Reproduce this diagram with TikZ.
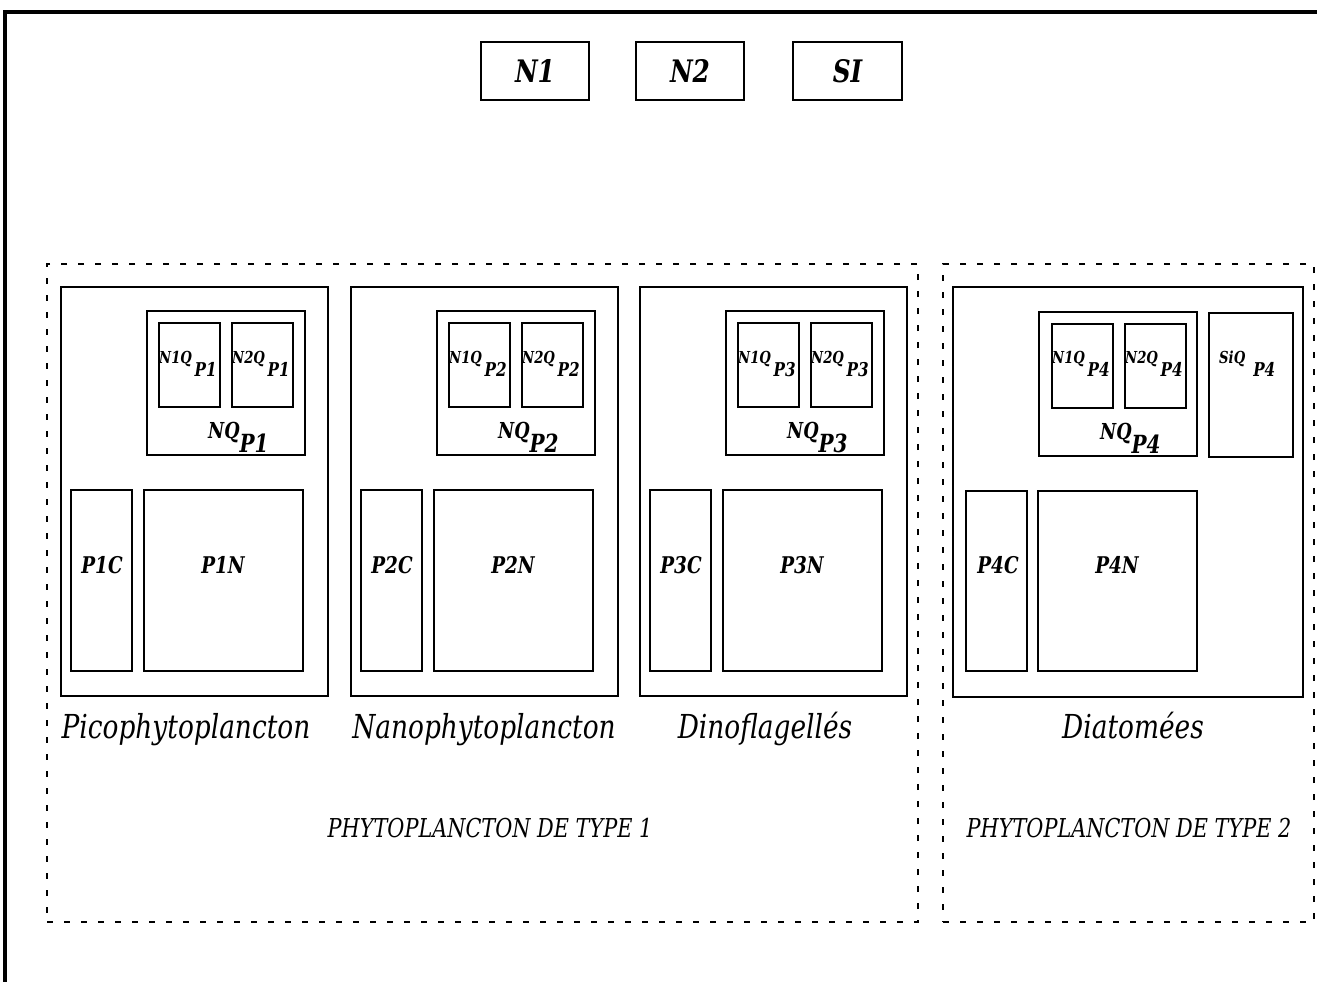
\documentclass[tikz,border=0pt]{standalone}
\usepackage{fontspec}
\setmainfont{DejaVu Serif}[FakeStretch=0.8]
\usetikzlibrary{fit}
\tikzset{
  box/.style={draw, line width=1.3pt, inner sep=0pt},
  grp/.style={draw, line width=1.3pt, dash pattern=on 6pt off 11pt, inner sep=0pt},
  toplab/.style={inner sep=0pt, font=\fontsize{31}{31}\selectfont\bfseries\itshape},
  biglab/.style={inner sep=0pt, font=\fontsize{23}{23}\selectfont\bfseries\itshape},
  nqlab/.style={inner sep=0pt, anchor=base west, font=\fontsize{22}{22}\selectfont\bfseries\itshape},
  qlab/.style={inner sep=0pt, anchor=base west, font=\fontsize{16.5}{17}\selectfont\bfseries\itshape},
  namelab/.style={inner sep=0pt, anchor=base, font=\fontsize{33}{33}\selectfont\itshape},
  typelab/.style={inner sep=0pt, anchor=base, font=\fontsize{26}{26}\selectfont\itshape},
}
\newcommand{\qsub}[1]{\raisebox{-13pt}{\fontsize{19}{19}\selectfont #1}}
\newcommand{\nqsub}[1]{\raisebox{-14pt}{\fontsize{25}{25}\selectfont #1}}
\begin{document}
\begin{tikzpicture}[x=1pt,y=-1pt]
\useasboundingbox (0,0) rectangle (1317,982);
% frame (top and left edges)
\draw[line width=4.5pt] (5,982) -- (5,12) -- (1317,12);

% top boxes
\node[box, fit={(481,42) (589,100)}] (bN1) {};
\node[box, fit={(636,42) (744,100)}] (bN2) {};
\node[box, fit={(793,42) (902,100)}] (bSI) {};
\node[toplab] (tN1) at (bN1.center) {N1};
\node[toplab] (tN2) at (bN2.center) {N2};
\node[toplab] (tSI) at (bSI.center) {SI};

% dashed groups
\node[grp, fit={(47,264) (918,922)}] (type1) {};
\node[grp, fit={(943,264) (1314,922)}] (type2) {};

% type 1 groups
\foreach \i/\d in {1/0,2/290,3/579} {
  \node[box, fit={({61+\d},287) ({328+\d},696)}] (g\i) {};
  \node[box, fit={({147+\d},311) ({305+\d},455)}] (nq\i) {};
  \node[box, fit={({159+\d},323) ({220+\d},407)}] (na\i) {};
  \node[box, fit={({232+\d},323) ({293+\d},407)}] (nb\i) {};
  \node[box, fit={({71+\d},490) ({132+\d},671)}] (c\i) {};
  \node[box, fit={({144+\d},490) ({303+\d},671)}] (n\i) {};
  \node[biglab] (cl\i) at ({102+\d},565) {P\i C};
  \node[biglab] (nl\i) at ({223+\d},565) {P\i N};
  \node[nqlab] (nql\i) at ({208+\d},438) {NQ\nqsub{P\i}};
  \node[qlab] (nal\i) at ({159+\d},363) {N1Q\,\qsub{P\i}};
  \node[qlab] (nbl\i) at ({232+\d},363) {N2Q\,\qsub{P\i}};
}

% type 2 group
\node[box, fit={(953,287) (1303,697)}] (g4) {};
\node[box, fit={(1039,312) (1197,456)}] (nq4) {};
\node[box, fit={(1052,324) (1113,408)}] (na4) {};
\node[box, fit={(1125,324) (1186,408)}] (nb4) {};
\node[box, fit={(1209,313) (1293,457)}] (si4) {};
\node[box, fit={(966,491) (1027,671)}] (c4) {};
\node[box, fit={(1038,491) (1197,671)}] (n4) {};
\node[biglab] (cl4) at (998,565) {P4C};
\node[biglab] (nl4) at (1117,565) {P4N};
\node[nqlab] (nql4) at (1100,439) {NQ\nqsub{P4}};
\node[qlab] (nal4) at (1052,363) {N1Q\,\qsub{P4}};
\node[qlab] (nbl4) at (1125,363) {N2Q\,\qsub{P4}};
\node[qlab] (sil4) at (1219,363) {SiQ\hspace{8pt}\qsub{P4}};

% names
\node[namelab] (pico) at (186,738) {Picophytoplancton};
\node[namelab] (nano) at (484,738) {Nanophytoplancton};
\node[namelab] (dino) at (765,738) {Dinoflagellés};
\node[namelab] (diat) at (1133,738) {Diatomées};
\node[typelab] (t1) at (490,837) {PHYTOPLANCTON DE TYPE 1};
\node[typelab] (t2) at (1129,837) {PHYTOPLANCTON DE TYPE 2};
\end{tikzpicture}
\end{document}
